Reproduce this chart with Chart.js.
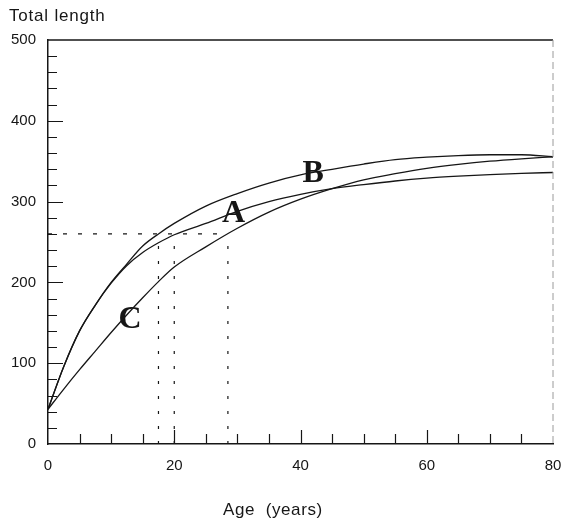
<!DOCTYPE html>
<html>
<head>
<meta charset="utf-8">
<script src="https://cdn.jsdelivr.net/npm/chart.js@4.4.1/dist/chart.umd.min.js"></script>
<style>
  html, body { margin: 0; padding: 0; background: #fff; }
</style>
</head>
<body>
<canvas id="growthChart" width="561" height="521"></canvas>
<script>
// age (years)
const ages = [0, 2.5, 5, 7.5, 10, 12.5, 15, 17.5, 20, 25, 30, 35, 40, 45, 50, 55, 60, 65, 70, 75, 80];

// total length
const curveA = [43, 96, 140, 172, 199, 221, 237, 249, 259, 273, 288, 300, 309, 316, 321, 325.5, 329, 331.5, 333.5, 335, 336];
const curveB = [43, 96, 140, 172, 200, 223, 245, 260, 273, 294.5, 310, 323, 333, 340, 346.5, 352, 355, 357, 358, 358, 355.5];
const curveC = [43, 68, 92, 115, 138, 160, 181, 201, 219, 244, 267, 287, 303, 316, 327, 334.5, 341, 346, 350, 353, 355.5];

// dotted guides: length 260 and the ages where each curve reaches it
const guideLength = 260;
const guideAges = [17.5, 20, 28.5];

// tick labels
const xTicks = [0, 20, 40, 60, 80];
const yTicks = [0, 100, 200, 300, 400, 500];

// curve letters
const curveNames = ['A', 'B', 'C'];
const nameAges = [29.4, 42, 13];
const nameLengths = [275, 324.5, 143];

const ink = '#161616';

const toPoints = (vals) => ages.map((a, i) => ({ x: a, y: vals[i] }));

const curveStyle = {
    borderColor: ink,
    borderWidth: 1.3,
    pointRadius: 0,
    fill: false,
    cubicInterpolationMode: 'monotone'
};

const datasets = [
    { label: 'A', data: toPoints(curveA), ...curveStyle },
    { label: 'B', data: toPoints(curveB), ...curveStyle },
    { label: 'C', data: toPoints(curveC), ...curveStyle },
    {
        label: 'h-guide',
        data: [{ x: 0, y: guideLength }, { x: guideAges[2], y: guideLength }],
        borderColor: ink, borderWidth: 1.2, borderDash: [4, 11], pointRadius: 0, fill: false
    }
];
guideAges.forEach(a => {
    datasets.push({
        label: 'v-guide',
        data: [{ x: a, y: 0 }, { x: a, y: guideLength }],
        borderColor: ink, borderWidth: 1.2, borderDash: [3, 12], pointRadius: 0, fill: false
    });
});

// frame, inward ticks, letters and axis titles
const decor = {
    id: 'decor',
    afterDraw(chart) {
        const { ctx, chartArea: a, scales: { x, y } } = chart;
        ctx.save();
        ctx.strokeStyle = ink;
        ctx.lineWidth = 1.4;
        ctx.beginPath();
        ctx.moveTo(a.left, a.top);
        ctx.lineTo(a.right, a.top);
        ctx.stroke();

        ctx.strokeStyle = '#9a9a9a';
        ctx.lineWidth = 1;
        ctx.setLineDash([7, 4]);
        ctx.beginPath();
        ctx.moveTo(a.right, a.top);
        ctx.lineTo(a.right, a.bottom);
        ctx.stroke();
        ctx.setLineDash([]);

        ctx.strokeStyle = ink;
        ctx.lineWidth = 1.2;
        ctx.beginPath();
        for (let v = 20; v < 500; v += 20) {
            const py = Math.round(y.getPixelForValue(v)) + 0.5;
            const len = v % 100 === 0 ? 15 : 9;
            ctx.moveTo(a.left, py);
            ctx.lineTo(a.left + len, py);
        }
        for (let v = 5; v < 80; v += 5) {
            const px = Math.round(x.getPixelForValue(v)) + 0.5;
            const len = v % 20 === 0 ? 14 : 10;
            ctx.moveTo(px, a.bottom);
            ctx.lineTo(px, a.bottom - len);
        }
        ctx.stroke();

        ctx.fillStyle = ink;
        ctx.font = 'bold 32px "Liberation Serif"';
        ctx.textAlign = 'center';
        ctx.textBaseline = 'alphabetic';
        curveNames.forEach((n, i) => {
            ctx.fillText(n, x.getPixelForValue(nameAges[i]), y.getPixelForValue(nameLengths[i]));
        });

        ctx.font = '17px "Liberation Sans"';
        ctx.letterSpacing = '0.8px';
        ctx.textAlign = 'left';
        ctx.fillText('Total length', 9, 21);
        ctx.letterSpacing = '0.6px';
        ctx.fillText('Age  (years)', 223, 515);
        ctx.restore();
    }
};

const ctx = document.getElementById('growthChart').getContext('2d');
const growthChart = new Chart(ctx, {
    type: 'line',
    data: { datasets: datasets },
    options: {
        responsive: false,
        animation: false,
        layout: { padding: { top: 40, right: 8, left: 0, bottom: 0 } },
        plugins: {
            legend: { display: false },
            tooltip: { enabled: false }
        },
        scales: {
            x: {
                type: 'linear',
                min: 0,
                max: 80,
                grid: { display: false, drawTicks: false },
                border: { display: true, color: ink, width: 1.5 },
                ticks: {
                    color: ink,
                    padding: 13,
                    font: { family: 'Liberation Sans', size: 15 }
                },
                afterBuildTicks: (s) => { s.ticks = xTicks.map(v => ({ value: v })); },
                afterFit: (s) => { s.height = 77; s.paddingLeft = 0; s.paddingRight = 0; }
            },
            y: {
                type: 'linear',
                min: 0,
                max: 500,
                grid: { display: false, drawTicks: false },
                border: { display: true, color: ink, width: 1.5 },
                ticks: {
                    color: ink,
                    padding: 12,
                    font: { family: 'Liberation Sans', size: 15 }
                },
                afterBuildTicks: (s) => { s.ticks = yTicks.map(v => ({ value: v })); },
                afterFit: (s) => { s.width = 48; s.paddingTop = 0; s.paddingBottom = 0; }
            }
        }
    },
    plugins: [decor]
});
</script>
</body>
</html>
